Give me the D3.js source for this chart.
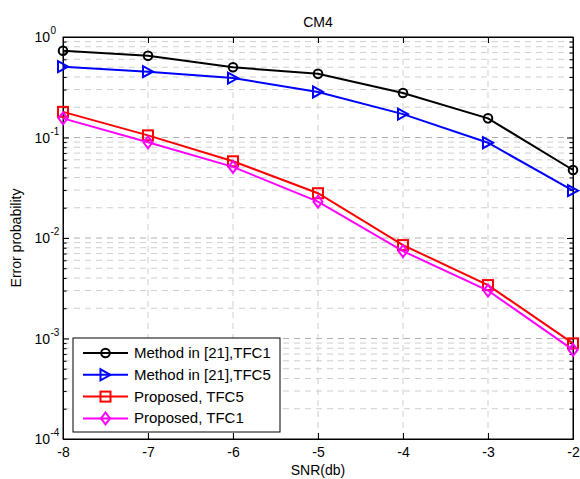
<!DOCTYPE html>
<html>
<head>
<meta charset="utf-8">
<script src="https://cdn.jsdelivr.net/npm/d3@7"></script>
<style>
  body { margin: 0; background: #fff; }
  svg { font-family: "Liberation Sans", Arial, Helvetica, sans-serif; }
</style>
</head>
<body>
<svg id="chart" width="580" height="479"></svg>
<script>
// values
const snr = [-8, -7, -6, -5, -4, -3, -2];
const method21TFC1 = [0.73, 0.65, 0.50, 0.43, 0.277, 0.155, 0.0475];
const method21TFC5 = [0.507, 0.452, 0.39, 0.284, 0.171, 0.0887, 0.0296];
const proposedTFC5 = [0.18, 0.105, 0.058, 0.0279, 0.0085, 0.0034, 0.000895];
const proposedTFC1 = [0.155, 0.0896, 0.051, 0.023, 0.0074, 0.003, 0.00077];

const seriesNames = ["Method in [21],TFC1", "Method in [21],TFC5", "Proposed, TFC5", "Proposed, TFC1"];
const seriesColors = ["#000000", "#0000ff", "#ff0000", "#ff00ff"];
const seriesMarkers = ["circle", "triangle", "square", "diamond"];
const seriesValues = [method21TFC1, method21TFC5, proposedTFC5, proposedTFC1];

const xTicks = [-8, -7, -6, -5, -4, -3, -2];
const yDecades = [-4, -3, -2, -1, 0];

const svg = d3.select("#chart");
const pLeft = 63, pRight = 573, pTop = 37, pBottom = 439;

const x = d3.scaleLinear().domain([-8, -2]).range([pLeft, pRight]);
const y = d3.scaleLog().domain([1e-4, 1]).range([pBottom, pTop]);

// minor values for log grid
let minors = [];
for (let d = -4; d < 0; ++d) {
    for (let k = 2; k <= 9; ++k) minors.push(k * Math.pow(10, d));
}
const decades = yDecades.map(e => Math.pow(10, e));

// grid
const grid = svg.append("g").attr("fill", "none").attr("stroke-dasharray", "6,5");
grid.selectAll("line.gy").data(minors).enter().append("line")
    .attr("x1", pLeft).attr("x2", pRight)
    .attr("y1", d => y(d)).attr("y2", d => y(d))
    .attr("stroke", "#cfcfcf").attr("stroke-width", 1);
grid.selectAll("line.gd").data(decades.slice(1, 4)).enter().append("line")
    .attr("x1", pLeft).attr("x2", pRight)
    .attr("y1", d => y(d)).attr("y2", d => y(d))
    .attr("stroke", "#b0b0b0").attr("stroke-width", 1);
grid.selectAll("line.gx").data(xTicks.slice(1, -1)).enter().append("line")
    .attr("y1", pTop).attr("y2", pBottom)
    .attr("x1", d => x(d)).attr("x2", d => x(d))
    .attr("stroke", "#cfcfcf").attr("stroke-width", 1);

// axes with inward ticks
const axisFont = 14;
const gx = svg.append("g").attr("transform", `translate(0,${pBottom})`)
    .call(d3.axisBottom(x).tickValues(xTicks).tickSizeInner(-6).tickSizeOuter(0).tickPadding(8)
        .tickFormat(d => String(d)));
svg.append("g").attr("transform", `translate(0,${pTop})`)
    .call(d3.axisTop(x).tickValues(xTicks).tickSizeInner(-6).tickSizeOuter(0).tickFormat(""));
svg.append("g").attr("transform", `translate(${pLeft},0)`)
    .call(d3.axisLeft(y).tickValues(decades).tickSizeInner(-6).tickSizeOuter(0).tickFormat(""));
svg.append("g").attr("transform", `translate(${pLeft},0)`)
    .call(d3.axisLeft(y).tickValues(minors).tickSizeInner(-3.5).tickSizeOuter(0).tickFormat(""));
svg.append("g").attr("transform", `translate(${pRight},0)`)
    .call(d3.axisRight(y).tickValues(decades).tickSizeInner(-6).tickSizeOuter(0).tickFormat(""));
svg.append("g").attr("transform", `translate(${pRight},0)`)
    .call(d3.axisRight(y).tickValues(minors).tickSizeInner(-3.5).tickSizeOuter(0).tickFormat(""));

svg.selectAll(".domain").attr("stroke", "#000");
svg.selectAll(".tick line").attr("stroke", "#000");
gx.selectAll("text").attr("font-size", axisFont).attr("fill", "#000")
    .attr("font-family", "Liberation Sans, Arial, sans-serif");

// box
svg.append("rect").attr("x", pLeft).attr("y", pTop)
    .attr("width", pRight - pLeft).attr("height", pBottom - pTop)
    .attr("fill", "none").attr("stroke", "#000").attr("stroke-width", 1);

// y tick labels 10^n
const yl = svg.append("g").attr("font-size", axisFont).attr("fill", "#000");
yDecades.forEach(function(e) {
    yl.append("text")
        .attr("x", pLeft - 13).attr("y", y(Math.pow(10, e)) + 5)
        .attr("text-anchor", "end").text("10");
    yl.append("text").attr("x", pLeft - 12.5).attr("y", y(Math.pow(10, e)) - 3)
        .attr("font-size", 10).text(e);
});

// markers
const markerSize = 5;
function drawMarker(g, type, cx, cy, color) {
    const s = markerSize;
    let el;
    if (type === "circle") {
        el = g.append("circle").attr("cx", cx).attr("cy", cy).attr("r", 4.3);
    } else if (type === "square") {
        el = g.append("rect").attr("x", cx - s).attr("y", cy - s).attr("width", 2 * s).attr("height", 2 * s);
    } else if (type === "triangle") {
        el = g.append("path").attr("d", `M${cx + s},${cy}L${cx - s},${cy - s - 0.5}L${cx - s},${cy + s + 0.5}Z`);
    } else {
        el = g.append("path").attr("d", `M${cx},${cy - s - 1}L${cx + s - 0.5},${cy}L${cx},${cy + s + 1}L${cx - s + 0.5},${cy}Z`);
    }
    el.attr("fill", "none").attr("stroke", color).attr("stroke-width", 2);
}

const line = d3.line().x(d => x(d[0])).y(d => y(d[1]));
const plot = svg.append("g");
seriesValues.forEach(function(vals, i) {
    const pts = snr.map((s, j) => [s, vals[j]]);
    plot.append("path").datum(pts).attr("d", line)
        .attr("fill", "none").attr("stroke", seriesColors[i]).attr("stroke-width", 2);
    pts.forEach(p => drawMarker(plot, seriesMarkers[i], x(p[0]), y(p[1]), seriesColors[i]));
});

// legend
const lg = svg.append("g");
lg.append("rect").attr("x", 73).attr("y", 338).attr("width", 207).attr("height", 94)
    .attr("fill", "#fff").attr("stroke", "#000").attr("stroke-width", 1);
seriesNames.forEach(function(name, i) {
    const ly = 353 + i * 21.8;
    lg.append("line").attr("x1", 83).attr("x2", 128).attr("y1", ly).attr("y2", ly)
        .attr("stroke", seriesColors[i]).attr("stroke-width", 2);
    drawMarker(lg, seriesMarkers[i], 105.5, ly, seriesColors[i]);
    lg.append("text").attr("x", 134).attr("y", ly + 5).attr("font-size", 15)
        .attr("fill", "#000").text(name);
});

// title and labels
svg.append("text").attr("x", (pLeft + pRight) / 2).attr("y", 27).attr("text-anchor", "middle")
    .attr("font-size", 14).text("CM4");
svg.append("text").attr("x", (pLeft + pRight) / 2).attr("y", 475).attr("text-anchor", "middle")
    .attr("font-size", 14).text("SNR(db)");
svg.append("text").attr("transform", `translate(21,${(pTop + pBottom) / 2}) rotate(-90)`)
    .attr("text-anchor", "middle").attr("font-size", 14).text("Error probability");
</script>
</body>
</html>
